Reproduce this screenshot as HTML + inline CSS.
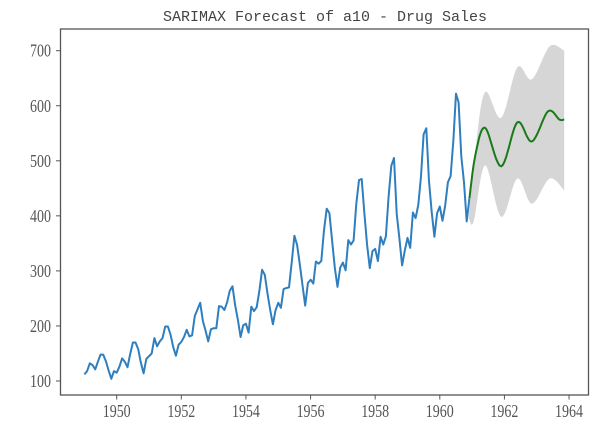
<!DOCTYPE html>
<html><head><meta charset="utf-8"><style>
html,body{margin:0;padding:0;background:#fff;width:609px;height:426px;overflow:hidden}
svg text{font-family:"Liberation Serif","Noto Serif CJK SC",serif;fill:#555}
</style></head><body>
<svg id="s" width="609" height="426" viewBox="0 0 609 426" xmlns="http://www.w3.org/2000/svg">
<text x="325" y="21" text-anchor="middle" style="font-family:'Liberation Mono',monospace;font-size:15px;fill:#444">SARIMAX Forecast of a10 - Drug Sales</text>
<g id="plot"></g>
<rect x="60.5" y="29" width="528" height="366" fill="none" stroke="#555" stroke-width="1.3"/>
<g id="ticks" font-size="14"></g>
</svg>
<script>
var d=[112,118,132,129,121,135,148,148,136,119,104,118,115,126,141,135,125,149,170,170,158,133,114,140,145,150,178,163,172,178,199,199,184,162,146,166,171,180,193,181,183,218,230,242,209,191,172,194,196,196,236,235,229,243,264,272,237,211,180,201,204,188,235,227,234,264,302,293,259,229,203,229,242,233,267,269,270,315,364,347,312,274,237,278,284,277,317,313,318,374,413,405,355,306,271,306,315,301,356,348,355,422,465,467,404,347,305,336,340,318,362,348,363,435,491,505,404,359,310,337,360,342,406,396,420,472,548,559,463,407,362,405,417,391,419,461,472,535,622,606,508,461,390,432];
function X(t){return 116.7+(t-1950)*32.31}
function Y(v){return 381-(v-100)*0.5505}
var ns="http://www.w3.org/2000/svg",g=document.getElementById('plot');
function el(n,a){var e=document.createElementNS(ns,n);for(var k in a)e.setAttribute(k,a[k]);return e}
function interp(pts,step){var out=[];for(var i=0;i<pts.length-1;i++){var p0=pts[Math.max(0,i-1)],p1=pts[i],p2=pts[i+1],p3=pts[Math.min(pts.length-1,i+2)];for(var s=0;s<1;s+=step){var s2=s*s,s3=s2*s;var f=function(a,b,c,d){return 0.5*((2*b)+(-a+c)*s+(2*a-5*b+4*c-d)*s2+(-a+3*b-3*c+d)*s3)};out.push([f(p0[0],p1[0],p2[0],p3[0]),f(p0[1],p1[1],p2[1],p3[1])])}}out.push(pts[pts.length-1]);return out}
var up=interp([[1960.9,400],[1961.1,520],[1961.4,625],[1961.9,578],[1962.4,670],[1962.85,648],[1963.4,708],[1963.85,700]],0.1);
var lo=interp([[1960.9,395],[1961.05,390],[1961.4,492],[1961.9,398],[1962.4,468],[1962.85,422],[1963.4,468],[1963.85,446]],0.1);
var p="M"+up.map(function(q){return X(q[0]).toFixed(1)+","+Y(q[1]).toFixed(1)}).join("L");
p+="L"+lo.reverse().map(function(q){return X(q[0]).toFixed(1)+","+Y(q[1]).toFixed(1)}).join("L")+"Z";
g.appendChild(el('path',{d:p,fill:'#d6d6d6',stroke:'none'}));
var bp=d.map(function(v,i){return X(1949+i/12).toFixed(1)+","+Y(v).toFixed(1)}).join(" ");
g.appendChild(el('polyline',{points:bp,fill:'none',stroke:'#2f7fbf','stroke-width':2,'stroke-linejoin':'round'}));
var fc=interp([[1960.917,432],[1961.1,510],[1961.4,560],[1961.9,490],[1962.4,570],[1962.85,535],[1963.35,590],[1963.7,575],[1963.85,575]],0.1);
g.appendChild(el('polyline',{points:fc.map(function(q){return X(q[0]).toFixed(1)+","+Y(q[1]).toFixed(1)}).join(" "),fill:'none',stroke:'#1a7a1a','stroke-width':2}));
var t=document.getElementById('ticks');
for(var v=100;v<=700;v+=100){var y=Y(v);t.appendChild(el('line',{x1:56,x2:60.5,y1:y,y2:y,stroke:'#555'}));var tx=el('text',{x:51,y:0,'text-anchor':'end',transform:'translate(0,'+(y+6)+') scale(1,1.3)'});tx.textContent=v;t.appendChild(tx)}
for(var yr=1950;yr<=1964;yr+=2){var x=X(yr);t.appendChild(el('line',{x1:x,x2:x,y1:395,y2:399.5,stroke:'#555'}));var tx=el('text',{x:x,y:0,'text-anchor':'middle',transform:'translate(0,417) scale(1,1.3)'});tx.textContent=yr;t.appendChild(tx)}
</script>
</body></html>
